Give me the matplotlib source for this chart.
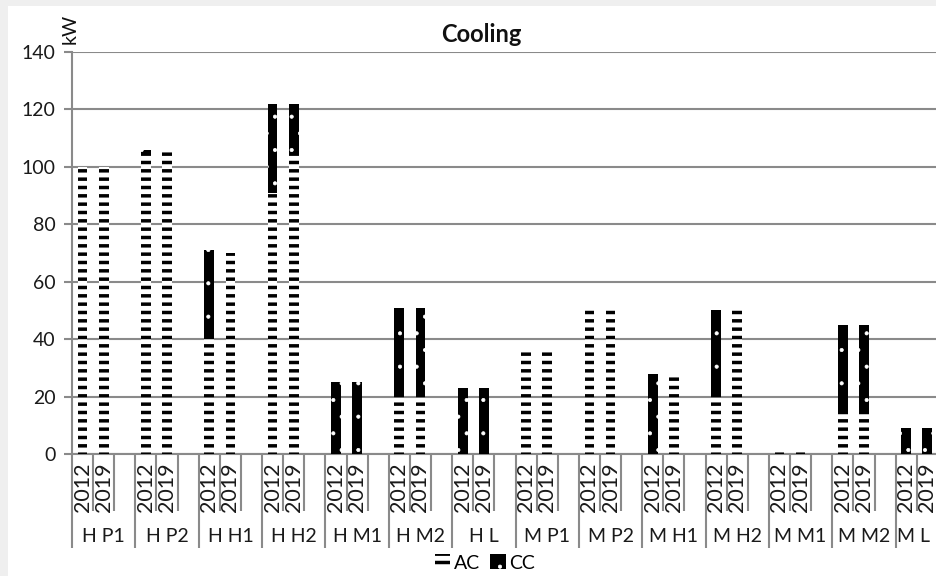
import matplotlib
matplotlib.use("Agg")
import matplotlib.pyplot as plt
from matplotlib.patches import Patch, Rectangle
from matplotlib.transforms import blended_transform_factory
import numpy as np

# Building categories and years
groups = ["H P1", "H P2", "H H1", "H H2", "H M1", "H M2", "H L",
          "M P1", "M P2", "M H1", "M H2", "M M1", "M M2", "M L"]
years = ["2012", "2019"]

# Cooling capacity in kW (AC = air conditioning, CC = central cooling)
ac_2012 = [100, 105, 41, 91, 0, 20, 0, 37, 51, 0, 20, 1, 15, 0]
cc_2012 = [0, 1, 30, 31, 25, 31, 23, 0, 0, 28, 30, 0, 30, 9]
ac_2019 = [100, 106, 70, 104, 0, 20, 0, 37, 51, 27, 50, 1, 15, 0]
cc_2019 = [0, 0, 0, 18, 25, 31, 23, 0, 0, 0, 0, 0, 30, 9]

yticks = [0, 20, 40, 60, 80, 100, 120, 140]

FONT = ["Lato", "DejaVu Sans"]
plt.rcParams["font.family"] = FONT
plt.rcParams["hatch.linewidth"] = 2.5
GRAY = "#8a8a8a"
AC_LW, CC_LW = 2.5, 0.5

W, H = 936, 576
fig = plt.figure(figsize=(W / 100, H / 100), dpi=100, facecolor="#efefef")
fig.patches.append(Rectangle((8 / W, 0), 1, 1 - 6 / H, transform=fig.transFigure,
                             facecolor="white", edgecolor="none", zorder=-5))

ax = fig.add_axes([72 / W, (H - 454) / H, 887 / W, 402 / H])
ax.set_facecolor("none")

n = len(groups)
x12 = np.arange(n) * 3
x19 = x12 + 1
bw = 0.46


def set_hlw(patches, lw):
    for p in patches:
        if hasattr(p, "set_hatch_linewidth"):
            p.set_hatch_linewidth(lw)


def ac_bars(x, vals):
    bars = ax.bar(x, vals, width=bw, color="white", edgecolor="black",
                  linewidth=0, hatch="--", zorder=3)
    set_hlw(bars, AC_LW)


def cc_bars(x, vals, base):
    bars = ax.bar(x, vals, width=bw, bottom=base, color="black", edgecolor="white",
                  linewidth=0, hatch=".", zorder=3)
    set_hlw(bars, CC_LW)


ac_bars(x12, ac_2012)
cc_bars(x12, cc_2012, ac_2012)
ac_bars(x19, ac_2019)
cc_bars(x19, cc_2019, ac_2019)

xmin, xmax = -0.5, 3 * n - 0.5
ax.set_xlim(xmin, xmax)
ax.set_ylim(0, 140)
ax.set_yticks(yticks)
ax.set_yticklabels([str(v) for v in yticks], fontsize=14, color="#1a1a1a")
ax.tick_params(axis="y", length=6, width=1.5, color=GRAY, pad=6)
ax.set_xticks([])
ax.yaxis.grid(True, color=GRAY, linewidth=1.5)
ax.set_axisbelow(True)
for side in ("top", "right"):
    ax.spines[side].set_visible(False)
for side in ("left", "bottom"):
    ax.spines[side].set_color(GRAY)
    ax.spines[side].set_linewidth(1.5)

# Right edge of the visible figure, in data units
ax_left_px, ax_w_px = 72, 887
vis_right = xmin + (W - 4 - ax_left_px) / ax_w_px * (xmax - xmin)

# Two-level category axis: years inside each building group
tr = blended_transform_factory(ax.transData, ax.transAxes)
y_year = -(487 - 454) / 402
y_group = -(536 - 454) / 402
y_inner = -(511 - 454) / 402
y_outer = -(548 - 454) / 402
for i, g in enumerate(groups):
    base = 3 * i
    for k, yr in enumerate(years):
        ax.text(base + k, y_year, yr, transform=tr, rotation=90, ha="center",
                va="center", fontsize=15.5, color="#1a1a1a", clip_on=False)
    for sep in (base + 0.5, base + 1.5):
        ax.plot([sep, sep], [0, y_inner], transform=tr, color=GRAY, lw=1.5,
                clip_on=False, solid_capstyle="butt")
    ax.plot([base - 0.5, base - 0.5], [0, y_outer], transform=tr, color=GRAY,
            lw=1.5, clip_on=False, solid_capstyle="butt")
    gx = min(base + 1, (base - 0.5 + vis_right) / 2)
    ax.text(gx, y_group, g, transform=tr, ha="center", va="center",
            fontsize=14, color="#1a1a1a", clip_on=False)

fig.text(481 / W, 1 - 35 / H, "Cooling", ha="center", va="center",
         fontsize=17, fontweight="bold", color="#111111")
fig.text(70 / W, 1 - 29 / H, "kW", ha="center", va="center", rotation=90,
         fontsize=14, color="#111111")

h_ac = Patch(facecolor="white", edgecolor="black", linewidth=0, hatch="--")
h_cc = Patch(facecolor="black", edgecolor="white", linewidth=0, hatch=".")
leg = fig.legend([h_ac, h_cc], ["AC", "CC"], loc="center",
                 bbox_to_anchor=(485 / W, 13 / H), ncol=2, frameon=False,
                 fontsize=14, handlelength=0.8, handleheight=0.8,
                 handletextpad=0.2, columnspacing=0.5, borderpad=0)
for p, lw in zip(leg.get_patches(), (AC_LW, CC_LW)):
    if hasattr(p, "set_hatch_linewidth"):
        p.set_hatch_linewidth(lw)

fig.savefig("out.png", dpi=100, facecolor=fig.get_facecolor())
